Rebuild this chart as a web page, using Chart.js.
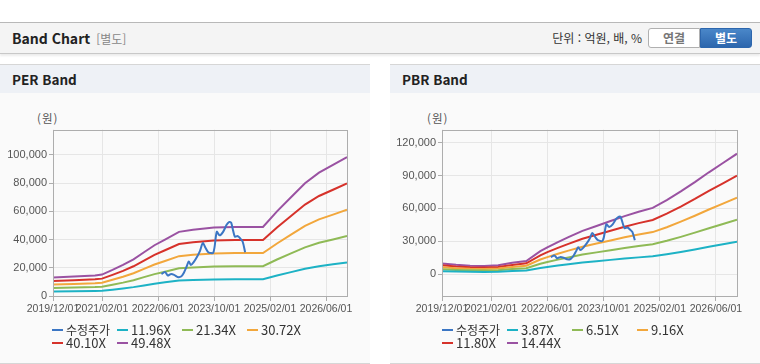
<!DOCTYPE html>
<html lang="ko">
<head>
  <meta charset="UTF-8" />
  <title>Band Chart</title>
  <script src="https://cdn.jsdelivr.net/npm/chart.js"></script>
  <style>
    body {
      margin: 0;
      width: 760px;
      height: 364px;
      position: relative;
      overflow: hidden;
      background: #fff;
      font-family: 'Noto Sans CJK KR', 'Liberation Sans', sans-serif;
      color: #222;
    }
    .topbar {
      position: absolute;
      left: 0; top: 22px;
      width: 760px; height: 30px;
      background: #f4f4f4;
      border-top: 1px solid #b8b8b8;
      border-bottom: 1px solid #c8c8c8;
      box-shadow: 0 2px 2px rgba(0,0,0,0.08);
    }
    .topbar .title {
      position: absolute; left: 12px; top: 5px;
      font-size: 14px; font-weight: bold; line-height: 20px;
    }
    .topbar .title span {
      font-weight: normal; color: #888; font-size: 12px; margin-left: 6px;
    }
    .topbar .unit {
      position: absolute; right: 118px; top: 6px;
      font-size: 12px; line-height: 18px; color: #333;
    }
    .btn {
      position: absolute; top: 5px; height: 18px; width: 50px;
      font-size: 12px; line-height: 18px; text-align: center; font-weight: bold;
    }
    .btn.off { left: 648px; background: #fff; border: 1px solid #b0b0b0; border-radius: 3px 0 0 3px; color: #777; }
    .btn.on { left: 700px; background: linear-gradient(#4a87c9, #2c66ad); border: 1px solid #2c66ad; border-radius: 0 3px 3px 0; color: #fff; }
    .panel {
      position: absolute; top: 64px;
      width: 370px; height: 298px;
      background: #fafafa;
      border-top: 1px solid #d6d6d6;
      border-bottom: 1px solid #d6d6d6;
    }
    .panel .head {
      height: 28px; background: #eef1f6;
      font-size: 13.5px; font-weight: bold; line-height: 28px;
      padding-left: 12px;
    }
    .panel canvas { position: absolute; left: 0; top: 56px; }
    .unitlabel {
      position: absolute; top: 46px; font-size: 11.5px; line-height: 14px; color: #555; letter-spacing: 1px;
    }
    .legend {
      position: absolute; top: 258px; width: 300px;
      font-family: 'Liberation Sans Narrow', 'Noto Sans CJK KR', sans-serif;
      font-size: 13px; color: #333; line-height: 13px;
    }
    .legend div {
      display: inline-block; width: 65px; height: 13px; margin-bottom: 0;
      white-space: nowrap; vertical-align: top;
    }
    .legend i {
      display: inline-block; width: 11px; height: 2px; margin-right: 3px;
      vertical-align: middle; position: relative; top: -1px;
    }
    .legend .ko { font-family: 'Noto Sans CJK KR', sans-serif; font-size: 12px; }
  </style>
</head>
<body>

  <div class="topbar">
    <div class="title">Band Chart<span>[별도]</span></div>
    <div class="unit">단위 : 억원, 배, %</div>
    <div class="btn off">연결</div>
    <div class="btn on">별도</div>
  </div>

  <div class="panel" style="left:0">
    <div class="head">PER Band</div>
    <div class="unitlabel" style="left:37px">(원)</div>
    <canvas id="perChart" width="370" height="200"></canvas>
    <div class="legend" id="perLegend" style="left:52px"></div>
  </div>

  <div class="panel" style="left:390px">
    <div class="head">PBR Band</div>
    <div class="unitlabel" style="left:37px">(원)</div>
    <canvas id="pbrChart" width="370" height="200"></canvas>
    <div class="legend" id="pbrLegend" style="left:52px"></div>
  </div>

  <script>
    // x axis: months counted from 2019/12/01
    const xTickMonths = [0, 14, 30, 46, 62, 78];
    const xTickLabels = ['2019/12/01', '2021/02/01', '2022/06/01', '2023/10/01', '2025/02/01', '2026/06/01'];

    // 수정주가 (same line in both charts)
    const priceMonths = [31.0, 32.0, 32.8, 33.6, 34.6, 35.6, 36.6, 37.4, 38.2, 38.8, 39.4, 40.2, 41.2, 42.0, 42.8,
                         43.6, 44.4, 45.8, 46.8, 47.6, 48.6, 49.6, 50.4, 50.9, 51.5, 52.0, 52.8, 53.6, 54.2, 54.9];
    const price = [15500, 17000, 14500, 15500, 15000, 13500, 13800, 16500, 21000, 24500, 22000, 24000, 28000, 32000, 37500,
                   34000, 31000, 30800, 45500, 43000, 45500, 50500, 52500, 52000, 46000, 42000, 42500, 40500, 38500, 31000];

    // PER band
    const perLabels = ['11.96X', '21.34X', '30.72X', '40.10X', '49.48X'];
    const perMonths = [0, 6, 12, 14, 17, 20, 23, 26, 29, 32, 36, 40, 46, 52, 60, 64, 68, 72, 76, 80, 84];
    const per1196 = [3190, 3340, 3530, 3670, 4470, 5320, 6290, 7490, 8700, 9670, 11000, 11360, 11720, 11840, 11840, 14500, 16920, 19340, 21150, 22480, 23810];
    const per2134 = [5690, 5950, 6300, 6560, 7980, 9490, 11210, 13370, 15530, 17250, 19620, 20270, 20920, 21130, 21130, 25880, 30190, 34500, 37740, 40110, 42480];
    const per3072 = [8200, 8570, 9070, 9440, 11490, 13660, 16140, 19250, 22350, 24830, 28250, 29180, 30110, 30420, 30420, 37250, 43460, 49670, 54330, 57740, 61150];
    const per4010 = [10700, 11180, 11830, 12320, 14990, 17830, 21070, 25120, 29180, 32420, 36880, 38090, 39310, 39710, 39710, 48630, 56730, 64830, 70910, 75370, 79830];
    const per4948 = [13200, 13800, 14600, 15200, 18500, 22000, 26000, 31000, 36000, 40000, 45500, 47000, 48500, 49000, 49000, 60000, 70000, 80000, 87500, 93000, 98500];
    const perYTicks = [0, 20000, 40000, 60000, 80000, 100000];

    // PBR band
    const pbrLabels = ['3.87X', '6.51X', '9.16X', '11.80X', '14.44X'];
    const pbrMonths = [0, 4, 8, 12, 16, 20, 24, 28, 30, 33, 36, 40, 44, 48, 52, 56, 60, 64, 68, 72, 76, 80, 84];
    const pbr387 = [2630, 2280, 2060, 2010, 2140, 2760, 3220, 5630, 6570, 7850, 9060, 10590, 11790, 13000, 14200, 15280, 16210, 18090, 20230, 22510, 24920, 27200, 29480];
    const pbr651 = [4420, 3830, 3470, 3380, 3610, 4640, 5410, 9470, 11050, 13210, 15240, 17810, 19840, 21870, 23890, 25700, 27280, 30430, 34040, 37870, 41930, 45760, 49590];
    const pbr916 = [6220, 5390, 4880, 4760, 5070, 6530, 7610, 13320, 15540, 18590, 21440, 25060, 27910, 30770, 33620, 36160, 38380, 42820, 47890, 53290, 58990, 64390, 69780];
    const pbr1180 = [8010, 6950, 6290, 6130, 6540, 8420, 9810, 17160, 20020, 23940, 27620, 32280, 35960, 39630, 43310, 46580, 49440, 55160, 61700, 68640, 76000, 82940, 89890];
    const pbr1444 = [9800, 8500, 7700, 7500, 8000, 10300, 12000, 21000, 24500, 29300, 33800, 39500, 44000, 48500, 53000, 57000, 60500, 67500, 75500, 84000, 93000, 101500, 110000];
    const pbrYTicks = [0, 30000, 60000, 90000, 120000];

    const colors = ['#3b76c4', '#1db2c5', '#8fba56', '#f2a73c', '#d6322b', '#9a52a2'];

    function pts(xs, ys) {
      return ys.map((y, i) => ({ x: xs[i], y: y }));
    }

    const frame = {
      id: 'frame',
      afterDatasetsDraw(chart) {
        const a = chart.chartArea, ctx = chart.ctx;
        ctx.save();
        ctx.strokeStyle = '#adadad';
        ctx.lineWidth = 1;
        ctx.strokeRect(Math.round(a.left) + 0.5, Math.round(a.top) + 0.5,
                       Math.round(a.right - a.left), Math.round(a.bottom - a.top));
        ctx.restore();
      }
    };

    function makeChart(id, legendId, bandMonths, bands, labels, yMin, yMax, yTicks, yWidth) {
      const names = ['수정주가'].concat(labels);
      const series = [pts(priceMonths, price)].concat(bands.map(b => pts(bandMonths, b)));
      const datasets = series.map((d, i) => ({
        label: names[i],
        data: d,
        borderColor: colors[i],
        backgroundColor: colors[i],
        borderWidth: 2,
        pointRadius: 0,
        tension: i === 0 ? 0.3 : 0,
        fill: false
      }));

      new Chart(document.getElementById(id), {
        type: 'line',
        data: { datasets: datasets },
        options: {
          responsive: false,
          animation: false,
          layout: { padding: { left: 0, right: 23, top: 8, bottom: 0 } },
          plugins: { legend: { display: false }, tooltip: { enabled: false } },
          scales: {
            x: {
              type: 'linear', min: 0, max: 84,
              afterBuildTicks(axis) { axis.ticks = xTickMonths.map(v => ({ value: v })); },
              afterFit(axis) { axis.height = 25; },
              grid: { color: '#e6e6e6', tickColor: '#adadad', tickLength: 5 },
              border: { display: false },
              ticks: {
                autoSkip: false, maxRotation: 0, padding: 2, color: '#555',
                font: { family: "'Liberation Sans Narrow', 'Liberation Sans', sans-serif", size: 10.5 },
                callback: v => xTickLabels[xTickMonths.indexOf(v)]
              }
            },
            y: {
              min: yMin, max: yMax,
              afterBuildTicks(axis) { axis.ticks = yTicks.map(v => ({ value: v })); },
              afterFit(axis) { axis.width = yWidth; },
              grid: { color: '#e6e6e6', tickColor: '#adadad', tickLength: 4 },
              border: { display: false },
              ticks: {
                padding: 2, color: '#555',
                font: { family: "'Liberation Sans Narrow', 'Liberation Sans', sans-serif", size: 11 },
                callback: v => v.toLocaleString('en-US')
              }
            }
          }
        },
        plugins: [frame]
      });

      document.getElementById(legendId).innerHTML = names.map((n, i) =>
        '<div><i style="background:' + colors[i] + '"></i>' +
        (i === 0 ? '<span class="ko">' + n + '</span>' : n) + '</div>'
      ).join('');
    }

    makeChart('perChart', 'perLegend', perMonths, [per1196, per2134, per3072, per4010, per4948],
              perLabels, 0, 118000, perYTicks, 53);
    makeChart('pbrChart', 'pbrLegend', pbrMonths, [pbr387, pbr651, pbr916, pbr1180, pbr1444],
              pbrLabels, -20000, 132000, pbrYTicks, 52);
  </script>
</body>
</html>
